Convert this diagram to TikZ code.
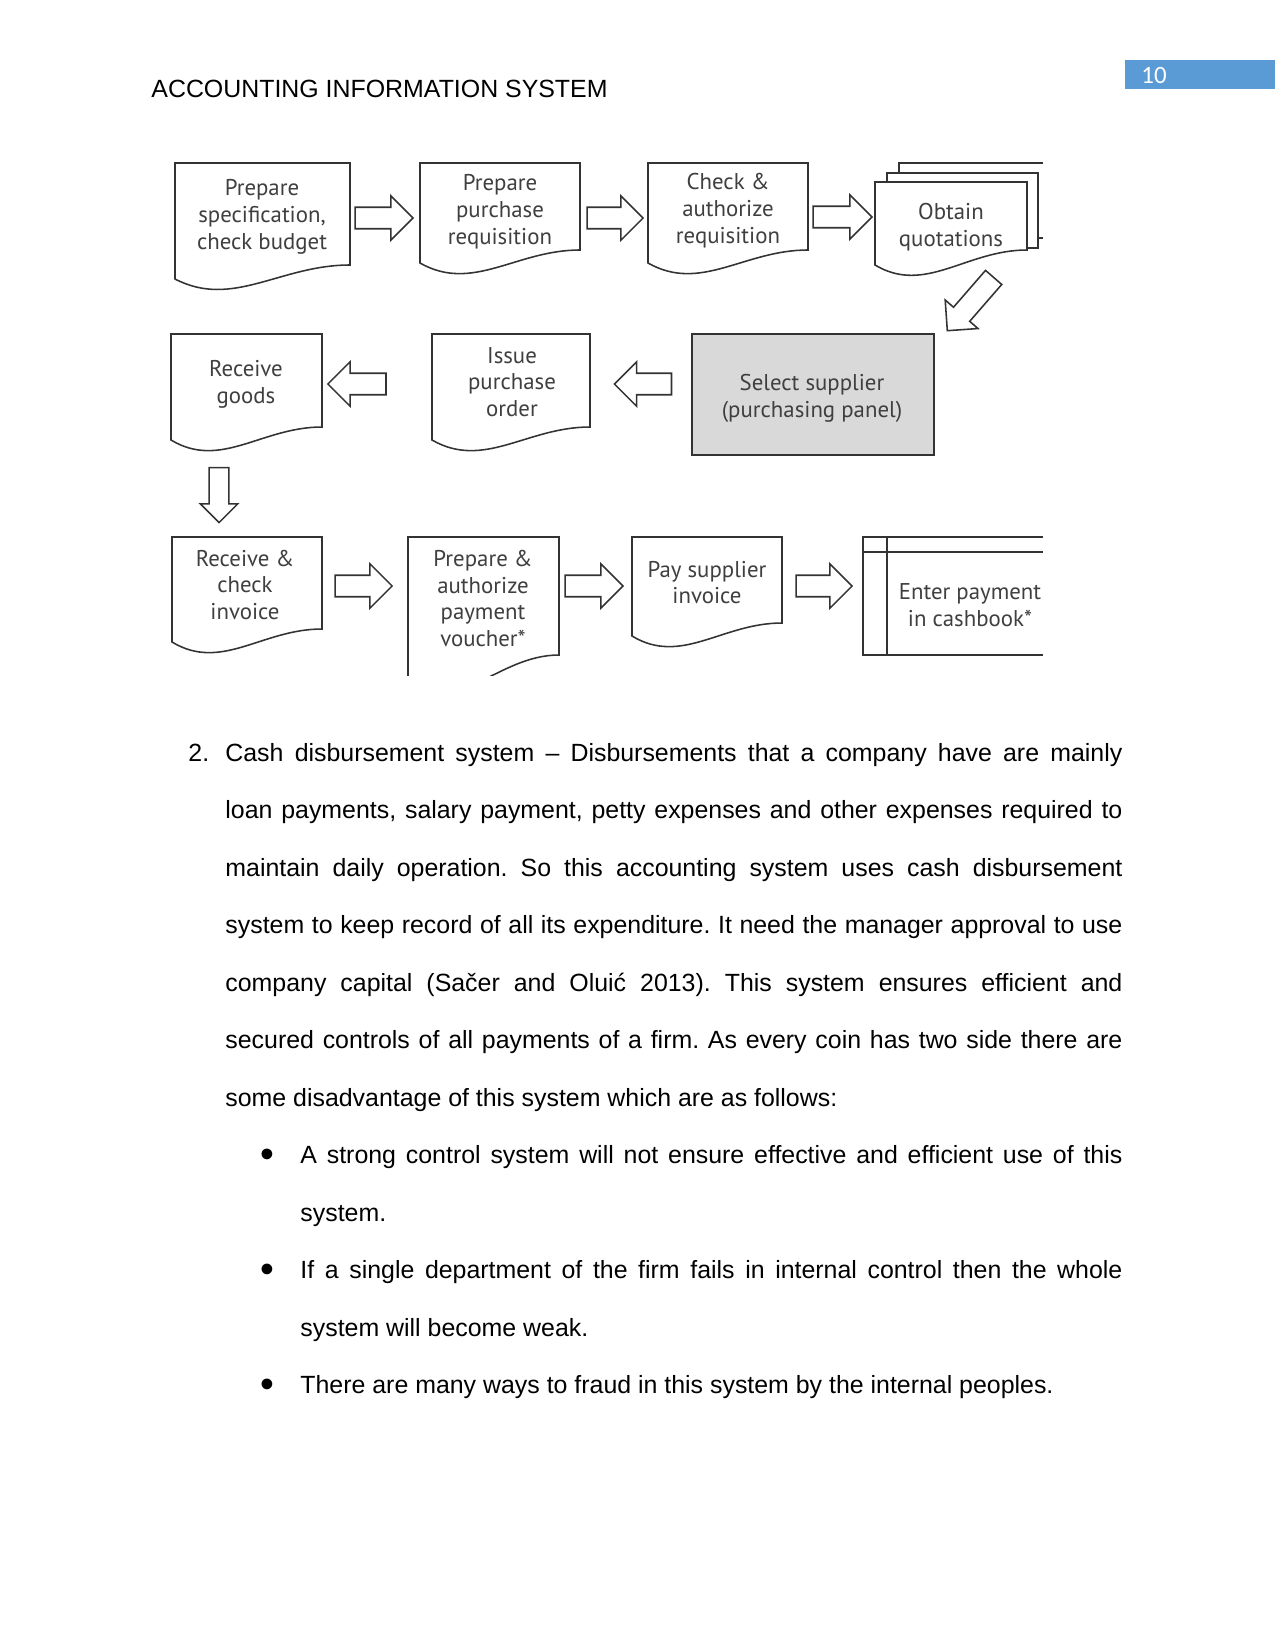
\documentclass[tikz,border=0pt]{standalone}
\usepackage{fontspec}
\setmainfont{Liberation Sans}
\newfontfamily\diagfont{PT Sans}
\newfontfamily\numfont{Carlito}
\usetikzlibrary{shapes.arrows}
\newdimen\PX \PX=0.48181pt
\definecolor{ln}{HTML}{333333}
\definecolor{dtxt}{HTML}{3F3F3F}
\definecolor{selfill}{HTML}{D9D9D9}
\definecolor{band}{HTML}{5B9BD5}
\newcommand\docshape[5]{\draw[docline] (#1,#2) -- (#3,#2) -- (#3,#4) .. controls ({#1+0.6*(#3-#1)},#4) and ({#1+0.33*(#3-#1)},{#5+30}) .. (#1,#5) -- cycle;}
\tikzset{
  docline/.style={draw=ln, line width=0.75pt, fill=white},
  dtext/.style={font=\diagfont\fontsize{11pt}{12.9pt}\selectfont, text=dtxt, align=center, inner sep=0pt},
  barrow/.style={single arrow, draw=ln, line width=0.75pt, fill=white, inner xsep=0pt, inner ysep=4.8pt, single arrow head extend=5.5pt, minimum height=28pt},
  body/.style={font=\fontsize{12pt}{14pt}\selectfont, anchor=base west, inner sep=0pt, text=black},
  bul/.style={font=\fontsize{19pt}{21pt}\selectfont, anchor=base, inner sep=0pt, text=black},
}
\frenchspacing
\begin{document}
\begin{tikzpicture}[x=0.48181pt, y=-0.48181pt]
\useasboundingbox (0,0) rectangle (1275,1651);
% header
\fill[band] (1125,60) rectangle (1275,89);
\node[anchor=base west, inner sep=0pt, text=white, font=\numfont\fontsize{12pt}{14pt}\selectfont] (pnum) at (1141,83) {10};
\node[body] (head) at (151,97) {ACCOUNTING INFORMATION SYSTEM};

% row 1
\docshape{175}{163}{350}{265}{279}
\node[dtext] (b1) at (262,217) {Prepare\\specification,\\check budget};
\docshape{420}{163}{580}{250}{263}
\node[dtext] (b2) at (500,211.5) {Prepare\\purchase\\requisition};
\docshape{648}{163}{808}{250}{263}
\node[dtext] (b3) at (728,210.5) {Check \&\\authorize\\requisition};
\draw[docline, fill=none] (899,182) -- (899,163) -- (1043,163);
\draw[docline, fill=none] (1038,238) -- (1043,238);
\draw[docline] (887,182) -- (887,173) -- (1038,173) -- (1038,248) -- (1027,248);
\docshape{875}{182}{1027}{250}{265}
\node[dtext] (b4) at (951,227) {Obtain\\quotations};

\node[barrow, minimum height=27.9pt] (a1) at (378.7,218) {};
\node[barrow, minimum height=27pt] (a2) at (609.7,218) {};
\node[barrow, minimum height=28.4pt] (a3) at (837.2,217) {};
\node[barrow, minimum height=34pt, single arrow head extend=5.3pt, rotate=229] (a4) at (974,300) {};

% row 2
\draw[draw=ln, line width=1.1pt, fill=selfill] (692,334) rectangle (934,455);
\node[dtext] (sel) at (812,398) {Select supplier\\(purchasing panel)};
\docshape{432}{334}{590}{427}{440}
\node[dtext] (ipo) at (512,382) {Issue\\purchase\\order};
\docshape{171}{334}{322}{427}{440}
\node[dtext] (rg) at (246,384) {Receive\\goods};
\node[barrow, minimum height=27.5pt, rotate=180] (a5) at (648.3,384) {};
\node[barrow, minimum height=28pt, rotate=180] (a6) at (362.3,384) {};
\node[barrow, minimum height=26.5pt, inner ysep=4.34pt, single arrow head extend=4.34pt, rotate=270] (a7) at (219,490.2) {};

% row 3
\docshape{172}{537}{322}{629}{642}
\node[dtext] (rci) at (245,585) {Receive \&\\check\\invoice};
\begin{scope}
\clip (0,0) rectangle (1275,675);
\docshape{408}{537}{559}{655}{686}
\end{scope}
\node[dtext] (pav) at (483,598.5) {Prepare \&\\authorize\\payment\\voucher*};
\docshape{632}{537}{782}{623}{636}
\node[dtext] (psi) at (707,582.5) {Pay supplier\\invoice};
\draw[docline, fill=none] (1043,537) -- (863,537) -- (863,655) -- (1043,655);
\draw[docline] (863,552) -- (1043,552);
\draw[docline] (887,537) -- (887,655);
\node[dtext] (cb) at (970,605) {Enter payment\\in cashbook*};
\node[barrow, minimum height=27.5pt] (a8) at (358.2,586) {};
\node[barrow, minimum height=27.9pt] (a9) at (588.7,586) {};
\node[barrow, minimum height=27pt] (a10) at (818.7,586) {};

% body text
\node[body] (n2) at (188,761) {2.};
\node[body] (l1) at (225,761) {\makebox[897\PX][s]{Cash disbursement system – Disbursements that a company have are mainly}};
\node[body] (l2) at (225,818) {\makebox[897\PX][s]{loan payments, salary payment, petty expenses and other expenses required to}};
\node[body] (l3) at (225,876) {\makebox[897\PX][s]{maintain daily operation. So this accounting system uses cash disbursement}};
\node[body] (l4) at (225,933) {\makebox[897\PX][s]{system to keep record of all its expenditure. It need the manager approval to use}};
\node[body] (l5) at (225,991) {\makebox[897\PX][s]{company capital (Sačer and Oluić 2013). This system ensures efficient and}};
\node[body] (l6) at (225,1048) {\makebox[897\PX][s]{secured controls of all payments of a firm. As every coin has two side there are}};
\node[body] (l7) at (225,1106) {some disadvantage of this system which are as follows:};
\node[bul] (bu1) at (267,1167) {•};
\node[body] (l8) at (300,1163) {\makebox[822\PX][s]{A strong control system will not ensure effective and efficient use of this}};
\node[body] (l9) at (300,1221) {system.};
\node[bul] (bu2) at (267,1282) {•};
\node[body] (l10) at (300,1278) {\makebox[822\PX][s]{If a single department of the firm fails in internal control then the whole}};
\node[body] (l11) at (300,1336) {system will become weak.};
\node[bul] (bu3) at (267,1397) {•};
\node[body] (l12) at (300,1393) {There are many ways to fraud in this system by the internal peoples.};
\end{tikzpicture}
\end{document}
